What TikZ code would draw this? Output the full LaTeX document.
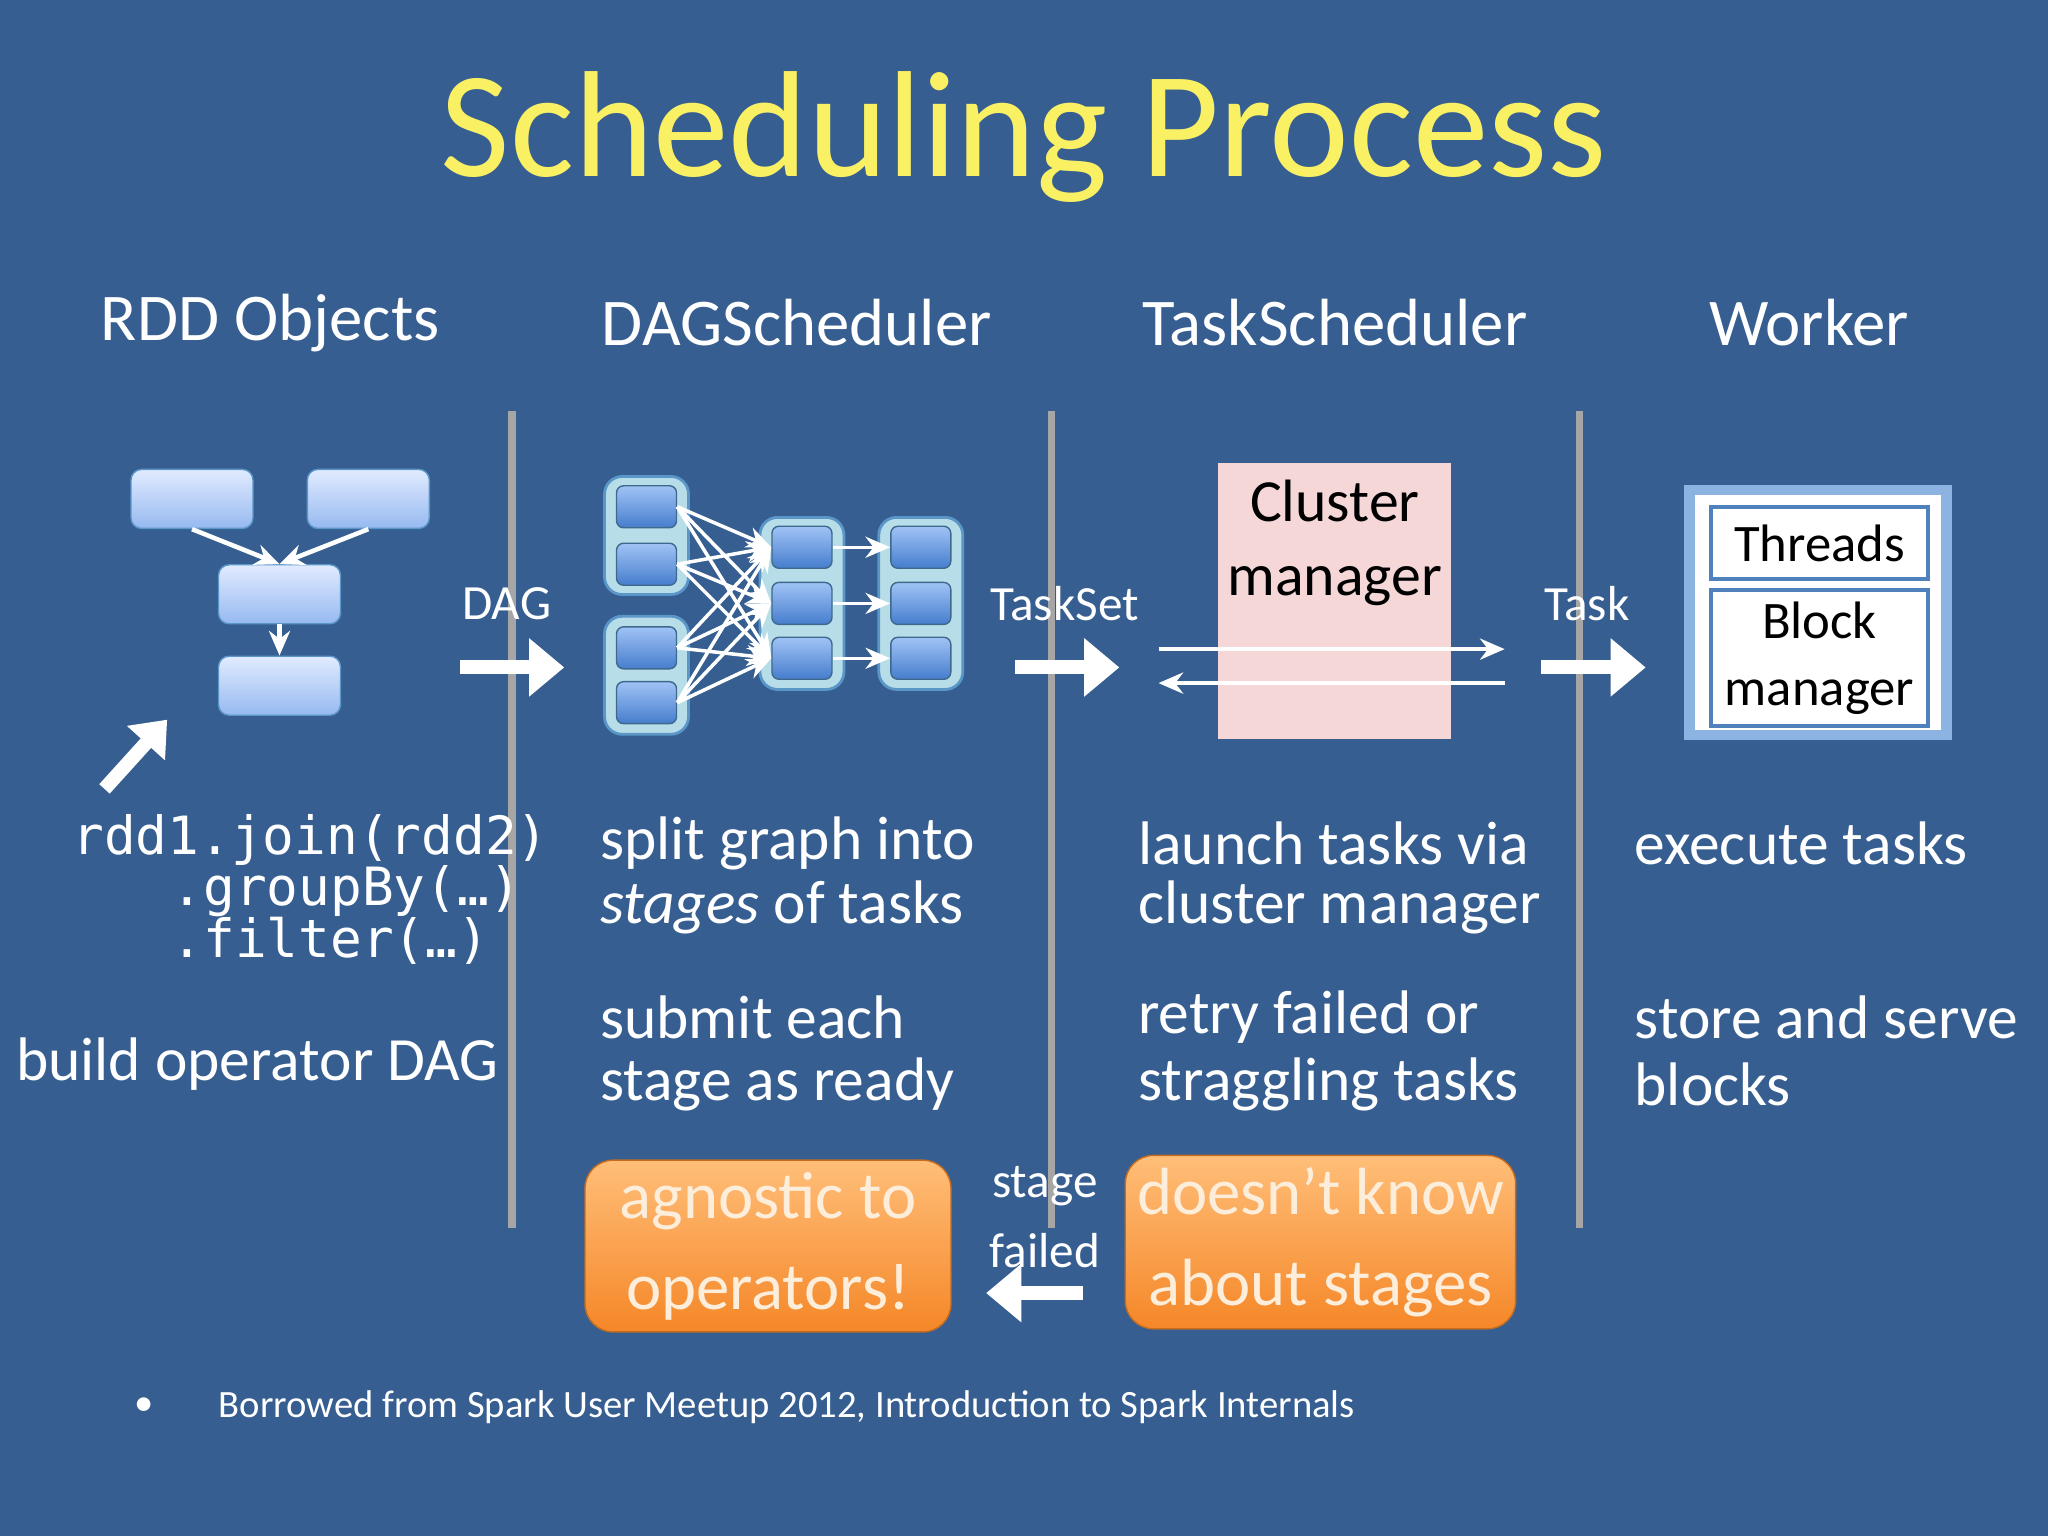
\documentclass[tikz,border=0pt]{standalone}
\usepackage{fontspec}
\setmainfont{Carlito}
\setmonofont{DejaVu Sans Mono}
\usetikzlibrary{positioning,arrows.meta}

\definecolor{slidebg}{RGB}{54,94,145}
\definecolor{titleyel}{RGB}{250,240,100}
\definecolor{boxtop}{RGB}{225,235,255}
\definecolor{boxbot}{RGB}{150,185,240}
\definecolor{stagefill}{RGB}{183,222,232}
\definecolor{stageline}{RGB}{90,150,200}
\definecolor{cellTop}{RGB}{160,195,245}
\definecolor{cellBot}{RGB}{70,125,205}
\definecolor{pinkfill}{RGB}{245,215,215}
\definecolor{orangeTop}{RGB}{255,190,120}
\definecolor{orangeBot}{RGB}{245,135,40}
\definecolor{cream}{RGB}{253,238,220}
\definecolor{wborder}{RGB}{141,179,226}
\definecolor{tborder}{RGB}{79,129,189}

\tikzset{
  rddbox/.style={draw=stageline,rounded corners=3pt,top color=boxtop,bottom color=boxbot,
    minimum width=1.22cm,minimum height=0.59cm,inner sep=0pt},
  stagebox/.style={draw=stageline,line width=0.8pt,fill=stagefill,rounded corners=5pt,inner sep=0pt},
  cell/.style={draw=stageline!70!black,rounded corners=2pt,top color=cellTop,bottom color=cellBot,
    minimum width=0.6cm,minimum height=0.42cm,inner sep=0pt},
  fatarrow/.style={white,line width=4pt,-{Triangle[length=10pt,width=16pt]}},
  thinarrow/.style={white,line width=1.3pt,-{Stealth[length=7pt,width=6pt]}},
  heading/.style={white,font=\fontsize{19}{22}\selectfont},
  body/.style={white,font=\fontsize{17.5}{22}\selectfont,align=left,anchor=west},
  small/.style={white,font=\fontsize{14}{16}\selectfont},
  sep/.style={gray!70,line width=2pt},
  note/.style={rounded corners=8pt,top color=orangeTop,bottom color=orangeBot,draw=orangeBot!80!black,
    text=cream,font=\fontsize{19}{26}\selectfont,align=center,minimum width=3.66cm,minimum height=1.62cm},
}

\begin{document}
\begin{tikzpicture}[x=0.013061cm,y=-0.013061cm]
\fill[slidebg] (0,0) rectangle (1568,1176);
\useasboundingbox (0,0) rectangle (1568,1176);

% title and column headings
\node[titleyel,font=\fontsize{43}{50}\selectfont] (title) at (784,105) {Scheduling Process};
\node[heading] (hrdd) at (207,247) {RDD Objects};
\node[heading] (hdag) at (610,247) {DAGScheduler};
\node[heading] (htask) at (1022,247) {TaskScheduler};
\node[heading] (hwork) at (1385,247) {Worker};

% separators
\foreach \x/\n in {392/a,805/b,1209/c}{
  \coordinate (top\n) at (\x,315);
  \coordinate (bot\n) at (\x,940);
  \draw[sep] (top\n) -- (bot\n);
}

% RDD objects
\node[rddbox] (r1) at (147,382) {};
\node[rddbox] (r2) at (282,382) {};
\node[rddbox] (r3) at (214,455) {};
\node[rddbox] (r4) at (214,525) {};
\draw[thinarrow] (r1.south) -- (r3.north);
\draw[thinarrow] (r2.south) -- (r3.north);
\draw[thinarrow] (r3.south) -- (r4.north);
\coordinate (ptail) at (80,604);
\coordinate (phead) at (128,551);
\draw[white,line width=4pt,-{Triangle[length=9pt,width=14pt]}] (ptail) -- (phead);

\node[white,font=\ttfamily\fontsize{15}{19}\selectfont,anchor=west] (code1) at (46,643) {rdd1.join(rdd2)};
\node[white,font=\ttfamily\fontsize{15}{19}\selectfont,anchor=west] (code2) at (122,682) {.groupBy(…)};
\node[white,font=\ttfamily\fontsize{15}{19}\selectfont,anchor=west] (code3) at (122,720) {.filter(…)};
\node[white,font=\fontsize{17.5}{22}\selectfont] (build) at (197,815) {build operator DAG};

% DAG arrow
\node[small] (ldag) at (388,462) {DAG};
\coordinate (d0) at (352,511);
\coordinate (d1) at (432,511);
\draw[fatarrow] (d0) -- (d1);

% stages
\node[stagebox,minimum width=0.84cm,minimum height=1.18cm] (sa) at (495,410) {};
\node[stagebox,minimum width=0.84cm,minimum height=1.18cm] (sb) at (495,517) {};
\node[stagebox,minimum width=0.84cm,minimum height=1.72cm] (sc) at (614,462) {};
\node[stagebox,minimum width=0.84cm,minimum height=1.72cm] (sd) at (705,462) {};
\node[cell] (a1) at (495,388) {};
\node[cell] (a2) at (495,432) {};
\node[cell] (b1) at (495,496) {};
\node[cell] (b2) at (495,538) {};
\foreach \y [count=\i] in {419,462,504}{
  \node[cell] (c\i) at (614,\y) {};
  \node[cell] (e\i) at (705,\y) {};
  \draw[thinarrow,line width=1pt] (c\i.east) -- (e\i.west);
}
\foreach \s in {a1,a2,b1,b2}
  \foreach \t in {c1,c2,c3}
    \draw[thinarrow,line width=1pt] (\s.east) -- (\t.west);

% TaskSet arrow
\node[small] (lts) at (815,462) {TaskSet};
\coordinate (t0) at (777,511);
\coordinate (t1) at (857,511);
\draw[fatarrow] (t0) -- (t1);

% cluster manager
\node[fill=pinkfill,minimum width=2.33cm,minimum height=2.76cm,anchor=north] (cm) at (1022,354) {};
\node[font=\fontsize{17}{21}\selectfont,align=center,anchor=north] (cmtext) at (1022,358) {Cluster\\manager};
\coordinate (ar0) at (887,497);
\coordinate (ar1) at (1152,497);
\coordinate (al0) at (1152,523);
\coordinate (al1) at (887,523);
\draw[thinarrow] (ar0) -- (ar1);
\draw[thinarrow] (al0) -- (al1);

% Task arrow
\node[small] (ltask) at (1215,462) {Task};
\coordinate (k0) at (1180,511);
\coordinate (k1) at (1260,511);
\draw[fatarrow] (k0) -- (k1);

% worker
\node[draw=wborder,line width=3pt,fill=white,minimum width=2.57cm,minimum height=2.45cm] (wk) at (1392,469) {};
\node[draw=tborder,line width=1.2pt,fill=white,minimum width=2.17cm,minimum height=0.72cm,font=\fontsize{15}{18}\selectfont] (thr) at (1393,416) {Threads};
\node[draw=tborder,line width=1.2pt,fill=white,minimum width=2.17cm,minimum height=1.19cm,font=\fontsize{15}{19}\selectfont,align=center] (bm) at (1393,504) {Block\\manager};

% descriptions
\node[body] (d1a) at (450,646) {split graph into};
\node[body] (d1b) at (450,695) {\textit{stages} of tasks};
\node[body] (d2a) at (450,779) {submit each};
\node[body] (d2b) at (450,830) {stage as ready};
\node[body] (d3a) at (862,646) {launch tasks via};
\node[body] (d3b) at (862,695) {cluster manager};
\node[body] (d4a) at (862,779) {retry failed or};
\node[body] (d4b) at (862,830) {straggling tasks};
\node[body] (d5a) at (1242,646) {execute tasks};
\node[body] (d6a) at (1242,779) {store and serve};
\node[body] (d6b) at (1242,830) {blocks};

% notes
\node[note] (agn) at (588,954) {agnostic to\\operators!};
\node[note] (dkn) at (1011,951) {doesn’t know\\about stages};
\node[small,align=center,font=\fontsize{14}{20}\selectfont] (sf) at (800,932) {stage\\failed};
\coordinate (f0) at (829,990);
\coordinate (f1) at (755,990);
\draw[fatarrow] (f0) -- (f1);

% footnote
\node[white,font=\fontsize{11}{13}\selectfont] (bul) at (110,1077) {•};
\node[white,font=\fontsize{11}{13}\selectfont,anchor=west] (foot) at (158,1077) {Borrowed from Spark User Meetup 2012, Introduction to Spark Internals};
\end{tikzpicture}
\end{document}
